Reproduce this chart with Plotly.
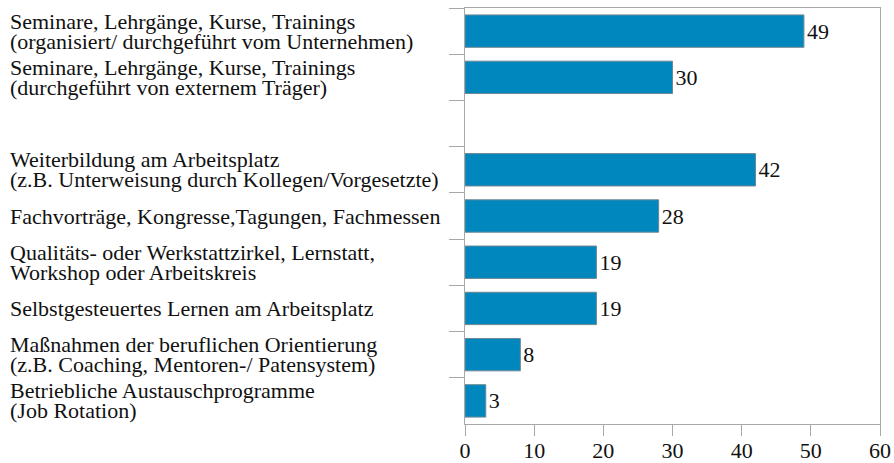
import plotly.graph_objects as go

categories = [
    "Seminare, Lehrgänge, Kurse, Trainings<br>(organisiert/ durchgeführt vom Unternehmen)",
    "Seminare, Lehrgänge, Kurse, Trainings<br>(durchgeführt von externem Träger)",
    " ",
    "Weiterbildung am Arbeitsplatz<br>(z.B. Unterweisung durch Kollegen/Vorgesetzte)",
    "Fachvorträge, Kongresse,Tagungen, Fachmessen",
    "Qualitäts- oder Werkstattzirkel, Lernstatt,<br>Workshop oder Arbeitskreis",
    "Selbstgesteuertes Lernen am Arbeitsplatz",
    "Maßnahmen der beruflichen Orientierung<br>(z.B. Coaching, Mentoren-/ Patensystem)",
    "Betriebliche Austauschprogramme<br>(Job Rotation)",
]
values = [49, 30, None, 42, 28, 19, 19, 8, 3]
x_ticks = [0, 10, 20, 30, 40, 50, 60]

FONT = "Liberation Serif"
FSIZE = 22
FRAME = "#a8a8a8"
BAR = "#0087bd"
LINE_GAP = 20

W, H = 894, 463
ML, MR, MT, MB = 465, 14, 8, 39
PLOT_W = W - ML - MR

bar_cats = [c for c, v in zip(categories, values) if v is not None]
bar_vals = [v for v in values if v is not None]

fig = go.Figure(go.Bar(
    x=bar_vals, y=bar_cats, orientation="h",
    marker=dict(color=BAR, line=dict(color="#6d8794", width=1)),
    width=0.7,
    text=[str(v) for v in bar_vals], textposition="outside",
    textfont=dict(family=FONT, size=FSIZE, color="#111"),
    cliponaxis=False,
))

for c, v in zip(categories, values):
    if v is None:
        continue
    lines = c.split("<br>")
    n = len(lines)
    for i, ln in enumerate(lines):
        fig.add_annotation(
            x=-(ML - 8) / PLOT_W, xref="paper", y=c, yref="y",
            text=ln, showarrow=False, xanchor="left", align="left",
            yshift=((n - 1) / 2 - i) * LINE_GAP,
            font=dict(family=FONT, size=FSIZE, color="#111"),
        )

fig.update_layout(
    width=W, height=H,
    margin=dict(l=ML, r=MR, t=MT, b=MB, autoexpand=False),
    plot_bgcolor="white", paper_bgcolor="white",
    showlegend=False,
    font=dict(family=FONT, size=FSIZE, color="#111"),
    xaxis=dict(
        range=[0, 60], tickvals=x_ticks, ticktext=[str(t) for t in x_ticks],
        showgrid=False, zeroline=False, automargin=False,
        showline=True, linecolor=FRAME, linewidth=1, mirror=True,
        ticks="outside", ticklen=11, tickcolor=FRAME, tickwidth=1,
        ticklabelstandoff=-4,
        tickfont=dict(family=FONT, size=FSIZE, color="#111"),
    ),
    yaxis=dict(
        type="category", categoryorder="array", categoryarray=categories,
        range=[len(categories) - 0.5, -0.5],
        showticklabels=False, showgrid=False, zeroline=False, automargin=False,
        showline=True, linecolor=FRAME, linewidth=1, mirror=True,
        ticks="outside", ticklen=15, tickcolor=FRAME, tickwidth=1,
        tickson="boundaries",
    ),
)

fig.write_html(
    "out.html",
    config={"displayModeBar": False},
    post_script="document.body.style.margin='0';document.body.style.overflow='hidden';",
)
